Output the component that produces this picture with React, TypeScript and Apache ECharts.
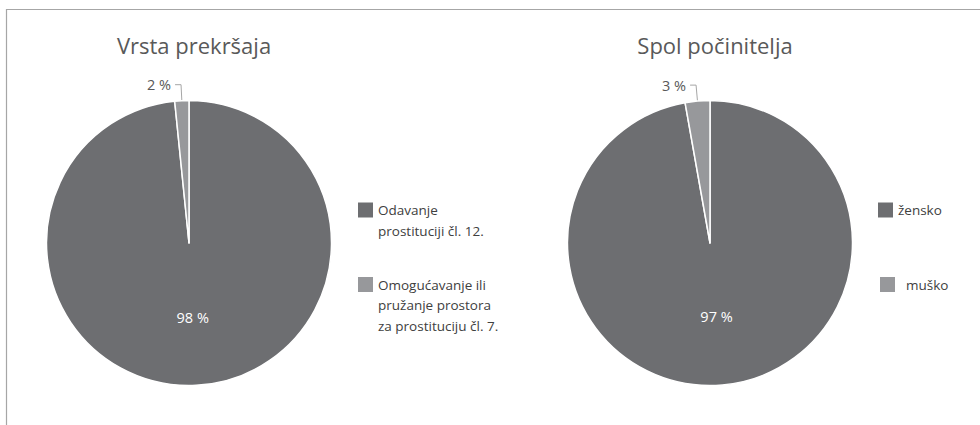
import React, { useEffect, useRef } from "react";
import * as echarts from "echarts";

const titles = ["Vrsta prekršaja", "Spol počinitelja"];
const offenceNames = ["Odavanje\nprostituciji čl. 12.", "Omogućavanje ili\npružanje prostora\nza prostituciju čl. 7."];
const offenceValues = [98.4, 1.6];
const genderNames = ["žensko", "muško"];
const genderValues = [97.2, 2.8];
const colors = ["#6d6e71", "#97989b"];

const FONT = "'Open Sans', 'Noto Sans', sans-serif";
const LH = 20.5;

export default function App() {
  const ref = useRef<HTMLDivElement>(null);
  useEffect(() => {
    if (!ref.current) return;
    const chart = echarts.init(ref.current, undefined, { renderer: "svg" });

    const pieSeries = (names: string[], values: number[], cx: number) => ({
      type: "pie",
      center: [cx, 243],
      radius: [0, 142.5],
      startAngle: 90,
      clockwise: true,
      avoidLabelOverlap: false,
      itemStyle: { borderColor: "#ffffff", borderWidth: 1.5 },
      data: names.map((n, i) => {
        const small = i === 1;
        return {
          name: n,
          value: values[i],
          itemStyle: { color: colors[i] },
          label: small
            ? {
                show: true,
                position: "outside",
                color: "#595959",
                fontSize: 14.5,
                fontFamily: FONT,
                distanceToLabelLine: 4,
              }
            : {
                show: true,
                position: "inside",
                color: "#ffffff",
                fontSize: 14.5,
                fontFamily: FONT,
              },
          labelLine: small
            ? { show: true, length: 16, length2: 6, lineStyle: { color: "#a6a6a6", width: 1 } }
            : { show: false },
        };
      }),
      label: {
        formatter: (p: any) => Math.round(p.percent) + " %",
      },
    });

    const legendItem = (name: string, lines: number, left: number, iconCenter: number, padLeft = 0) => ({
      orient: "vertical",
      left,
      top: iconCenter - ((2 * lines - 1) * LH) / 2,
      padding: 0,
      itemWidth: 15,
      itemHeight: 15,
      icon: "rect",
      itemStyle: { borderWidth: 0 },
      data: [name],
      selectedMode: false,
      formatter: (n: string) => "\n".repeat(lines - 1) + n,
      textStyle: {
        fontFamily: FONT,
        fontSize: 13.5,
        color: "#404040",
        lineHeight: LH,
        padding: [0, 0, 0, padLeft],
      },
    });

    chart.setOption({
      animation: false,
      backgroundColor: "#ffffff",
      title: [
        {
          text: titles[0],
          left: 189,
          top: 29,
          textAlign: "center",
          textStyle: { fontFamily: FONT, fontSize: 22, fontWeight: "normal", color: "#595959" },
        },
        {
          text: titles[1],
          left: 710,
          top: 29,
          textAlign: "center",
          textStyle: { fontFamily: FONT, fontSize: 22, fontWeight: "normal", color: "#595959" },
        },
      ],
      legend: [
        legendItem(offenceNames[0], 2, 358, 210),
        legendItem(offenceNames[1], 3, 358, 284.5),
        legendItem(genderNames[0], 1, 878, 210),
        legendItem(genderNames[1], 1, 880, 284.5, 6),
      ],
      graphic: [
        {
          type: "rect",
          shape: { x: 6.5, y: 9.5, width: 1000, height: 500 },
          style: { fill: "none", stroke: "#a6a6a6", lineWidth: 1.2 },
          silent: true,
          z: -1,
        },
      ],
      series: [pieSeries(offenceNames, offenceValues, 189), pieSeries(genderNames, genderValues, 710)],
    });
    return () => chart.dispose();
  }, []);
  return <div ref={ref} style={{ position: "fixed", left: 0, top: 0, width: 980, height: 425 }} />;
}
